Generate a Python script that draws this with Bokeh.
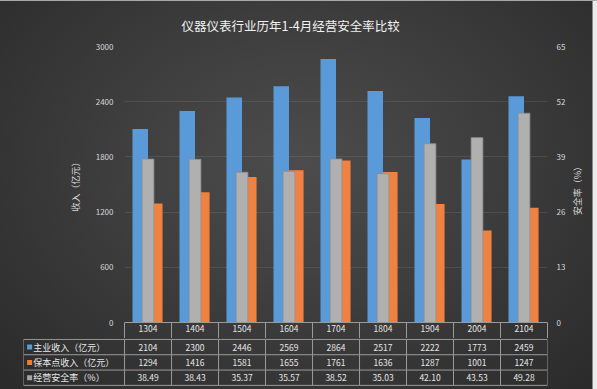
import math
from bokeh.plotting import figure
from bokeh.models import (Range1d, LinearAxis, FixedTicker, ColumnDataSource, Title, Grid)
from bokeh.layouts import column, row
from bokeh.transform import dodge
from bokeh.core.properties import value
from bokeh.embed import file_html
from bokeh.resources import INLINE

# ---------------- data ----------------
categories = ["1304", "1404", "1504", "1604", "1704", "1804", "1904", "2004", "2104"]
main_revenue = [2104, 2300, 2446, 2569, 2864, 2517, 2222, 1773, 2459]
breakeven_revenue = [1294, 1416, 1581, 1655, 1761, 1636, 1287, 1001, 1247]
safety_rate = [38.49, 38.43, 35.37, 35.57, 38.52, 35.03, 42.10, 43.53, 49.28]
series_names = ["主业收入（亿元）", "保本点收入（亿元）", "经营安全率（%）"]
left_ticks = [0, 600, 1200, 1800, 2400, 3000]
right_ticks = [0, 13, 26, 39, 52, 65]
title_text = "仪器仪表行业历年1-4月经营安全率比较"
left_label = "收入（亿元）"
right_label = "安全率（%）"

# ---------------- style ----------------
FONT = "Noto Sans CJK SC"
BLUE = "#5a9ad8"
ORANGE = "#ef8240"
GRAY = "#b0b0b0"
LEG_COLORS = ["#5b9bd5", "#ed7d31", "#a5a5a5"]
TXT = "#d9d9d9"
LINE = "#9a9a9a"

n = len(categories)
centers = [i + 0.5 for i in range(n)]   # category slot centres on the index scale
bounds = list(range(n + 1))             # category slot boundaries

src = ColumnDataSource(dict(x=centers, cat=categories, main=main_revenue,
                            be=breakeven_revenue, rate=safety_rate))


def clear(fig):
    fig.background_fill_alpha = 0
    fig.border_fill_alpha = 0
    fig.outline_line_color = None
    fig.grid.visible = False


# ---------------- chart ----------------
p = figure(width=568, height=338, x_range=Range1d(0, n),
           y_range=Range1d(0, left_ticks[-1]),
           output_backend="svg", toolbar_location=None,
           x_axis_location=None, y_axis_location=None,
           min_border_left=124, min_border_right=21, min_border_top=46, min_border_bottom=16)
clear(p)
p.extra_y_ranges = {"rate": Range1d(0, right_ticks[-1])}

p.title = Title(text=title_text, align="left", offset=57, standoff=24, text_font=FONT,
                text_font_size="12.5px", text_color="#f2f2f2", text_font_style="normal")

yl = LinearAxis(ticker=FixedTicker(ticks=left_ticks), axis_line_color=None,
                major_tick_out=0, major_tick_in=0, minor_tick_out=0, minor_tick_in=0,
                major_label_standoff=11, major_label_text_font=FONT,
                major_label_text_font_size="8px", major_label_text_color=TXT,
                axis_label=left_label, axis_label_standoff=11, axis_label_text_font=FONT,
                axis_label_text_font_size="9px", axis_label_text_color=TXT,
                axis_label_text_font_style="normal")
p.add_layout(yl, "left")

yr = LinearAxis(y_range_name="rate", ticker=FixedTicker(ticks=right_ticks), axis_line_color=None,
                major_tick_out=0, major_tick_in=0, minor_tick_out=0, minor_tick_in=0,
                major_label_standoff=9, major_label_text_font=FONT,
                major_label_text_font_size="8px", major_label_text_color=TXT)
p.add_layout(yr, "right")

xb = LinearAxis(ticker=FixedTicker(ticks=centers, minor_ticks=bounds),
                major_label_overrides={c: cat for c, cat in zip(centers, categories)},
                axis_line_color=LINE, major_tick_out=0, major_tick_in=0,
                minor_tick_out=16, minor_tick_in=0, minor_tick_line_color=LINE,
                major_label_standoff=-14, major_label_text_font=FONT,
                major_label_text_font_size="8.5px", major_label_text_color="#e6e6e6")
p.add_layout(xb, "below")

p.add_layout(Grid(dimension=1, ticker=yl.ticker, grid_line_color="white", grid_line_alpha=0.09))

p.vbar(x=dodge("x", -0.165), top="main", width=0.33, source=src,
       fill_color=BLUE, line_color=None)
p.vbar(x=dodge("x", 0.155), top="be", width=0.31, source=src,
       fill_color=ORANGE, line_color=None)
p.vbar(x="x", top="rate", width=0.25, source=src, y_range_name="rate",
       fill_color=GRAY, line_color="#8f8f8f", line_width=0.8)

# ---------------- right axis title (reads bottom-to-top) ----------------
lab = figure(width=29, height=338, x_range=Range1d(0, 1), y_range=Range1d(0, 1),
             output_backend="svg", toolbar_location=None,
             x_axis_location=None, y_axis_location=None,
             min_border_left=0, min_border_right=0, min_border_top=46, min_border_bottom=16)
clear(lab)
lab.text(x=[0.31], y=[0.485], text=[right_label], angle=math.pi / 2,
         text_align="center", text_baseline="middle", text_font=value(FONT),
         text_font_size="9px", text_color=TXT)

# ---------------- data table ----------------
L = 2.15
t = figure(width=597, height=51, x_range=Range1d(-L, n), y_range=Range1d(-0.27, 3.06),
           output_backend="svg", toolbar_location=None,
           x_axis_location=None, y_axis_location=None,
           min_border_left=23, min_border_right=50, min_border_top=0, min_border_bottom=0)
clear(t)

rows = 3
hx0 = [-L] * (rows + 1)
hx1 = [n] * (rows + 1)
hy = list(range(rows + 1))
t.segment(x0=hx0, y0=hy, x1=hx1, y1=hy, line_color=LINE, line_width=1)
vx = [-L] + bounds
t.segment(x0=vx, y0=[0] * len(vx), x1=vx, y1=[rows] * len(vx), line_color=LINE, line_width=1)

row_values = [[str(v) for v in main_revenue],
              [str(v) for v in breakeven_revenue],
              [f"{v:.2f}" for v in safety_rate]]
tx, ty, tt = [], [], []
for r, vals in enumerate(row_values):
    for c, v in zip(centers, vals):
        tx.append(c)
        ty.append(rows - r - 0.5)
        tt.append(v)
t.text(x=tx, y=ty, text=tt, text_align="center", text_baseline="middle",
       text_font=value(FONT), text_font_size="8.5px", text_color="#e6e6e6")

ry = [rows - r - 0.5 for r in range(rows)]
t.scatter(x=[-L + 0.13] * rows, y=ry, marker="square", size=5, fill_color=LEG_COLORS,
          line_color=None)
t.text(x=[-L + 0.21] * rows, y=ry, text=series_names, text_align="left",
       text_baseline="middle", text_font=value(FONT), text_font_size="9px",
       text_color="#e6e6e6")

bg = ("linear-gradient(to bottom, #a8a8a8 0px, #a8a8a8 1px, transparent 1px), "
      "linear-gradient(to right, transparent 592px, #8a8a8a 592px, #8a8a8a 593px, #ececec 593px), "
      "radial-gradient(ellipse farthest-corner at 50% 42%, #4c4c4c 0%, #414141 35%, #2a2a2a 100%)")
layout = column(row(p, lab, spacing=0), row(t), spacing=0, styles={"background": bg})

open("out.html", "w").write(file_html(layout, INLINE))
